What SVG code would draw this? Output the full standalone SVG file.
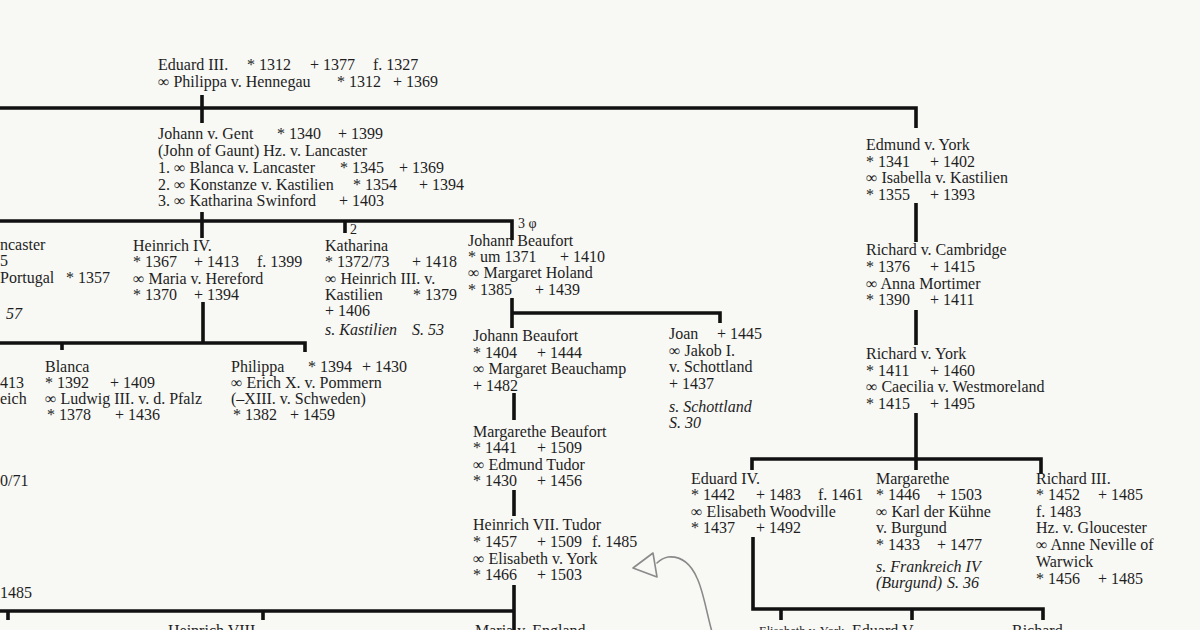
<svg xmlns="http://www.w3.org/2000/svg" width="1200" height="630" viewBox="0 0 1200 630">
<style>
text{font-family:"Liberation Serif","Times New Roman",serif;font-size:16px;fill:#1e1e1e;white-space:pre}
.i{font-style:italic}
.sm{font-size:14px}
.ln{stroke:#111;stroke-width:3.6;fill:none;stroke-linecap:butt}
.pen{stroke:#8a8a8a;stroke-width:1.6;fill:none;stroke-linecap:round;stroke-linejoin:round}
</style>
<rect width="1200" height="630" fill="#f8f8f5"/>
<g id="connectors">
<path class="ln" d="M202 95V123M0 108H916V128"/>
<path class="ln" d="M202 212V238M0 221H512V240M345 221V233"/>
<path class="ln" d="M203 302V343M0 343H305V352M62 343V350"/>
<path class="ln" d="M512 298V328M512 313H720V323"/>
<path class="ln" d="M514 393V420M514 490V516M514 585V630M0 611H514M8 611V620M263 611V620"/>
<path class="ln" d="M916 203V242M916 310V345M916 413V470M752 470V459H1041V474"/>
<path class="ln" d="M753 537V609H1043V620M781 609V620M912 609V620"/>
</g>
<g id="eduard3">
<text x="158" y="70">Eduard III.<tspan x="247">* 1312</tspan><tspan x="310">+ 1377</tspan><tspan x="373">f. 1327</tspan></text>
<text x="158" y="87">∞ Philippa v. Hennegau<tspan x="337">* 1312</tspan><tspan x="393">+ 1369</tspan></text>
</g>
<g id="johann-gent">
<text x="158" y="139">Johann v. Gent<tspan x="277">* 1340</tspan><tspan x="338">+ 1399</tspan></text>
<text x="158" y="156">(John of Gaunt) Hz. v. Lancaster</text>
<text x="158" y="173">1. ∞ Blanca v. Lancaster<tspan x="340">* 1345</tspan><tspan x="399">+ 1369</tspan></text>
<text x="158" y="190">2. ∞ Konstanze v. Kastilien<tspan x="353">* 1354</tspan><tspan x="419">+ 1394</tspan></text>
<text x="158" y="206">3. ∞ Katharina Swinford<tspan x="339">+ 1403</tspan></text>
</g>
<g id="lancaster-left">
<text x="0" y="250">ncaster</text>
<text x="0" y="266">5</text>
<text x="0" y="283">Portugal<tspan x="66">* 1357</tspan></text>
<text x="6" y="319" class="i">57</text>
</g>
<g id="heinrich4">
<text x="133" y="251">Heinrich IV.</text>
<text x="133" y="267">* 1367<tspan x="194">+ 1413</tspan><tspan x="257">f. 1399</tspan></text>
<text x="133" y="284">∞ Maria v. Hereford</text>
<text x="133" y="300">* 1370<tspan x="194">+ 1394</tspan></text>
</g>
<g id="katharina">
<text x="350" y="234" class="sm">2</text>
<text x="325" y="251">Katharina</text>
<text x="325" y="267">* 1372/73<tspan x="412">+ 1418</tspan></text>
<text x="325" y="284">∞ Heinrich III. v.</text>
<text x="325" y="300">Kastilien<tspan x="413">* 1379</tspan></text>
<text x="325" y="316">+ 1406</text>
<text x="325" y="335" class="i">s. Kastilien<tspan x="412">S. 53</tspan></text>
</g>
<g id="johann-beaufort">
<text x="518" y="228" class="sm">3 φ</text>
<text x="468" y="246">Johann Beaufort</text>
<text x="468" y="262">* um 1371<tspan x="560">+ 1410</tspan></text>
<text x="468" y="278">∞ Margaret Holand</text>
<text x="468" y="295">* 1385<tspan x="535">+ 1439</tspan></text>
</g>
<g id="blanca-left">
<text x="0" y="388">413</text>
<text x="0" y="404">eich</text>
</g>
<g id="blanca">
<text x="45" y="372">Blanca</text>
<text x="45" y="388">* 1392<tspan x="110">+ 1409</tspan></text>
<text x="45" y="404">∞ Ludwig III. v. d. Pfalz</text>
<text x="47" y="420">* 1378<tspan x="115">+ 1436</tspan></text>
</g>
<g id="philippa">
<text x="231" y="372">Philippa<tspan x="308">* 1394</tspan><tspan x="362">+ 1430</tspan></text>
<text x="231" y="388">∞ Erich X. v. Pommern</text>
<text x="231" y="404">(–XIII. v. Schweden)</text>
<text x="233" y="420">* 1382<tspan x="290">+ 1459</tspan></text>
</g>
<g id="johann-beaufort-2">
<text x="473" y="341">Johann Beaufort</text>
<text x="473" y="358">* 1404<tspan x="537">+ 1444</tspan></text>
<text x="473" y="374">∞ Margaret Beauchamp</text>
<text x="473" y="391">+ 1482</text>
</g>
<g id="joan">
<text x="669" y="339">Joan<tspan x="717">+ 1445</tspan></text>
<text x="669" y="356">∞ Jakob I.</text>
<text x="669" y="372">v. Schottland</text>
<text x="669" y="389">+ 1437</text>
<text x="669" y="412" class="i">s. Schottland</text>
<text x="669" y="428" class="i">S. 30</text>
</g>
<g id="margarethe-beaufort">
<text x="473" y="437">Margarethe Beaufort</text>
<text x="473" y="453">* 1441<tspan x="537">+ 1509</tspan></text>
<text x="473" y="470">∞ Edmund Tudor</text>
<text x="473" y="486">* 1430<tspan x="537">+ 1456</tspan></text>
</g>
<g id="heinrich7">
<text x="473" y="530">Heinrich VII. Tudor</text>
<text x="473" y="547">* 1457<tspan x="537">+ 1509</tspan><tspan x="592">f. 1485</tspan></text>
<text x="473" y="564">∞ Elisabeth v. York</text>
<text x="473" y="580">* 1466<tspan x="537">+ 1503</tspan></text>
</g>
<g id="left-1485">
<text x="0" y="486">0/71</text>
<text x="0" y="598">1485</text>
</g>
<g id="edmund-york">
<text x="866" y="150">Edmund v. York</text>
<text x="866" y="167">* 1341<tspan x="930">+ 1402</tspan></text>
<text x="866" y="183">∞ Isabella v. Kastilien</text>
<text x="866" y="200">* 1355<tspan x="930">+ 1393</tspan></text>
</g>
<g id="richard-cambridge">
<text x="866" y="255">Richard v. Cambridge</text>
<text x="866" y="272">* 1376<tspan x="930">+ 1415</tspan></text>
<text x="866" y="289">∞ Anna Mortimer</text>
<text x="866" y="305">* 1390<tspan x="930">+ 1411</tspan></text>
</g>
<g id="richard-york">
<text x="866" y="359">Richard v. York</text>
<text x="866" y="376">* 1411<tspan x="930">+ 1460</tspan></text>
<text x="866" y="392">∞ Caecilia v. Westmoreland</text>
<text x="866" y="409">* 1415<tspan x="930">+ 1495</tspan></text>
</g>
<g id="eduard4">
<text x="691" y="484">Eduard IV.</text>
<text x="691" y="500">* 1442<tspan x="756">+ 1483</tspan><tspan x="818">f. 1461</tspan></text>
<text x="691" y="517">∞ Elisabeth Woodville</text>
<text x="691" y="533">* 1437<tspan x="756">+ 1492</tspan></text>
</g>
<g id="margarethe">
<text x="876" y="484">Margarethe</text>
<text x="876" y="500">* 1446<tspan x="937">+ 1503</tspan></text>
<text x="876" y="517">∞ Karl der Kühne</text>
<text x="876" y="533">v. Burgund</text>
<text x="876" y="550">* 1433<tspan x="937">+ 1477</tspan></text>
<text x="876" y="572" class="i">s. Frankreich IV</text>
<text x="876" y="588" class="i">(Burgund)<tspan x="947">S. 36</tspan></text>
</g>
<g id="richard3">
<text x="1036" y="484">Richard III.</text>
<text x="1036" y="500">* 1452<tspan x="1098">+ 1485</tspan></text>
<text x="1036" y="517">f. 1483</text>
<text x="1036" y="533">Hz. v. Gloucester</text>
<text x="1036" y="550">∞ Anne Neville of</text>
<text x="1036" y="567">Warwick</text>
<text x="1036" y="584">* 1456<tspan x="1098">+ 1485</tspan></text>
</g>
<g id="bottom-row">
<text x="168" y="636">Heinrich VIII.</text>
<text x="475" y="636">Maria v. England</text>
<text x="759" y="635" style="font-size:12.5px">Elisabeth v. York</text>
<text x="852" y="636">Eduard V.</text>
<text x="1012" y="636">Richard</text>
</g>
<g id="pencil-arrow">
<path class="pen" d="M712 632C706 610 703 590 697 578C690 562 680 556 668 557C663 558 660 560 657 563"/>
<path class="pen" d="M633 568L653 553L657 577Z"/>
</g>
</svg>
